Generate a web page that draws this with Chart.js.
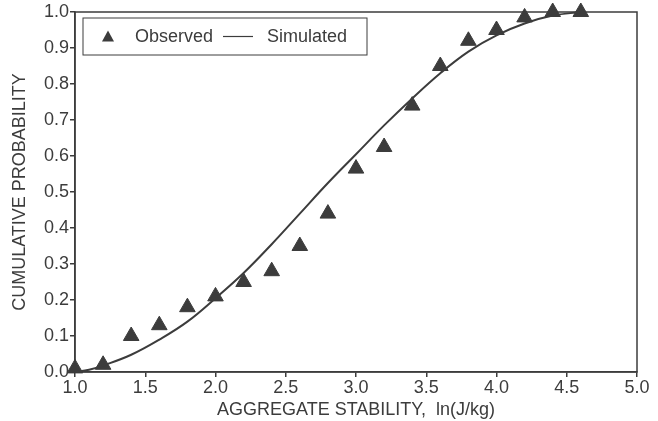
<!DOCTYPE html>
<html>
<head>
<meta charset="utf-8">
<script src="https://cdn.jsdelivr.net/npm/chart.js@4.4.1/dist/chart.umd.min.js"></script>
<style>
  html, body { margin: 0; padding: 0; background: #fff; }
  #wrap { width: 658px; height: 421px; }
</style>
</head>
<body>
<div id="wrap"><canvas id="chart" width="658" height="421"></canvas></div>
<script>
// observed points (triangles)
const obsX = [1.0, 1.2, 1.4, 1.6, 1.8, 2.0, 2.2, 2.4, 2.6, 2.8, 3.0, 3.2, 3.4, 3.6, 3.8, 4.0, 4.2, 4.4, 4.6];
const obsY = [0.01, 0.02, 0.10, 0.13, 0.18, 0.21, 0.25, 0.28, 0.35, 0.44, 0.565, 0.625, 0.74, 0.85, 0.92, 0.95, 0.985, 1.0, 1.0];

// simulated curve
const simX = [1.0, 1.1, 1.2, 1.4, 1.6, 1.8, 2.0, 2.2, 2.4, 2.6, 2.8, 3.0, 3.2, 3.4, 3.6, 3.8, 4.0, 4.2, 4.4, 4.6];
const simY = [0.0, 0.006, 0.018, 0.048, 0.09, 0.14, 0.205, 0.275, 0.355, 0.44, 0.525, 0.605, 0.685, 0.76, 0.83, 0.89, 0.935, 0.968, 0.99, 1.0];

const xTicks = [1.0, 1.5, 2.0, 2.5, 3.0, 3.5, 4.0, 4.5, 5.0];
const yTicks = [0.0, 0.1, 0.2, 0.3, 0.4, 0.5, 0.6, 0.7, 0.8, 0.9, 1.0];

const legendLabels = ["Observed", "Simulated"];
const xTitle = "AGGREGATE STABILITY,  ln(J/kg)";
const yTitle = "CUMULATIVE PROBABILITY";

const ink = "#3c3c3c";
const font = "'Liberation Sans', Arial, Helvetica, sans-serif";

// frame round the plot + legend box
const framePlugin = {
  id: "frame",
  afterDraw(chart) {
    const {ctx, chartArea} = chart;
    ctx.save();
    ctx.strokeStyle = ink;
    ctx.lineWidth = 1.5;
    ctx.strokeRect(chartArea.left, chartArea.top, chartArea.right - chartArea.left, chartArea.bottom - chartArea.top);

    // legend
    const lx = chartArea.left + 8, ly = chartArea.top + 6, lw = 284, lh = 37;
    ctx.lineWidth = 1;
    ctx.strokeRect(lx, ly, lw, lh);
    const cy = ly + lh / 2;
    // triangle marker
    ctx.fillStyle = ink;
    ctx.beginPath();
    ctx.moveTo(lx + 25, cy - 6);
    ctx.lineTo(lx + 31, cy + 5);
    ctx.lineTo(lx + 19, cy + 5);
    ctx.closePath();
    ctx.fill();
    ctx.font = "18px " + font;
    ctx.textBaseline = "middle";
    ctx.fillText(legendLabels[0], lx + 52, cy + 1);
    ctx.beginPath();
    ctx.moveTo(lx + 140, cy);
    ctx.lineTo(lx + 170, cy);
    ctx.lineWidth = 1.2;
    ctx.stroke();
    ctx.fillText(legendLabels[1], lx + 184, cy + 1);
    ctx.restore();
  },
};

new Chart(document.getElementById("chart"), {
  type: "scatter",
  data: {
    datasets: [
      {
        label: legendLabels[1],
        data: simX.map((x, i) => ({x: x, y: simY[i]})),
        showLine: true,
        tension: 0.4,
        borderColor: ink,
        borderWidth: 2,
        pointRadius: 0,
        clip: false,
      },
      {
        label: legendLabels[0],
        data: obsX.map((x, i) => ({x: x, y: obsY[i]})),
        pointStyle: "triangle",
        pointRadius: 9,
        backgroundColor: ink,
        borderColor: ink,
        borderWidth: 1,
        clip: false,
      },
    ],
  },
  options: {
    responsive: false,
    animation: false,
    layout: {padding: {top: 12, right: 21, left: 0, bottom: 0}},
    plugins: {legend: {display: false}, tooltip: {enabled: false}},
    scales: {
      x: {
        type: "linear",
        min: 1,
        max: 5,
        afterBuildTicks: (s) => { s.ticks = xTicks.map((v) => ({value: v})); },
        afterFit: (s) => { s.height = 49; },
        ticks: {
          callback: (v) => v.toFixed(1),
          color: ink,
          font: {family: font, size: 18},
          padding: 0,
          maxRotation: 0,
        },
        grid: {drawOnChartArea: false, drawTicks: true, tickLength: 5, color: ink, lineWidth: 1.5},
        border: {display: true, color: ink, width: 1.5},
        title: {display: true, text: xTitle, color: ink, font: {family: font, size: 18}, padding: {top: 0, bottom: 0}},
      },
      y: {
        type: "linear",
        min: 0,
        max: 1,
        afterBuildTicks: (s) => { s.ticks = yTicks.map((v) => ({value: v})); },
        afterFit: (s) => { s.width = 75; },
        ticks: {
          callback: (v) => v.toFixed(1),
          color: ink,
          font: {family: font, size: 18},
          padding: 1,
        },
        grid: {drawOnChartArea: false, drawTicks: true, tickLength: 5, color: ink, lineWidth: 1.5},
        border: {display: true, color: ink, width: 1.5},
        title: {display: true, text: yTitle, color: ink, font: {family: font, size: 18}, padding: {top: 9, bottom: 0}},
      },
    },
  },
  plugins: [framePlugin],
});
</script>
</body>
</html>
